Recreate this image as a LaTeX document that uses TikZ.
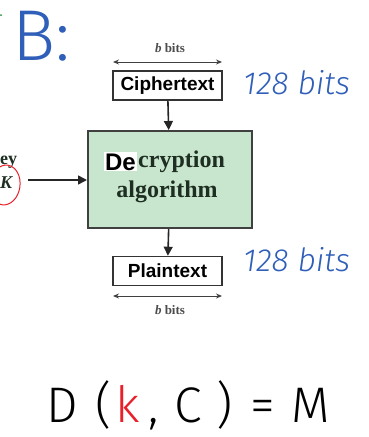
\documentclass[tikz,border=0pt]{standalone}
\usepackage{fontspec}
\setmainfont{Liberation Serif}
\newfontfamily\boxsans{Liberation Sans}
\newfontfamily\hand{Fira Sans Light}
\usetikzlibrary{arrows.meta}
\definecolor{boxgreen}{HTML}{C8E6CD}
\definecolor{darktext}{HTML}{1E2E22}
\definecolor{inkblue}{HTML}{2F5FB8}
\definecolor{inkred}{HTML}{E8202A}
\definecolor{inkgreen}{HTML}{1E8C3A}
\tikzset{
  plainbox/.style={draw=black!80, line width=1.6pt, fill=white, minimum width=109pt, minimum height=29pt, inner sep=0pt, font=\boxsans\bfseries\fontsize{19}{21}\selectfont},
  algbox/.style={draw=black!75, line width=2pt, fill=boxgreen, minimum width=164pt, minimum height=97pt, inner sep=0pt},
  flow/.style={line width=1.6pt, draw=black!85, -{Triangle[length=9pt,width=9pt]}},
  width/.style={line width=0.9pt, draw=black!75, {Stealth[length=6pt,width=5pt]}-{Stealth[length=6pt,width=5pt]}},
  bitslabel/.style={font=\fontsize{13}{15}\selectfont\bfseries, text=black!70, inner sep=0pt},
  handnote/.style={font=\hand\itshape\fontsize{32}{34}\selectfont, text=inkblue, inner sep=0pt, anchor=base west},
  keytext/.style={font=\bfseries\fontsize{18}{20}\selectfont, text=darktext, inner sep=0pt, anchor=base west},
}
\begin{document}
\begin{tikzpicture}[x=1pt,y=-1pt]
\useasboundingbox (0,0) rectangle (369,437);
% handwritten heading
\fill[inkgreen] (1,15) circle (1pt);
\node[font=\hand\fontsize{72}{72}\selectfont, text=inkblue, inner sep=0pt, anchor=base west] (B) at (12,60) {B:};
% top width
\coordinate (wt1) at (113,62);
\coordinate (wt2) at (222,62);
\draw[width] (wt1) -- (wt2);
\node[bitslabel] (bt) at (170,48) {\textit{b} bits};
% boxes
\node[plainbox] (cipher) at (167.5,85.5) {Ciphertext};
\node[algbox] (alg) at (170,179.5) {};
\node[plainbox] (plain) at (167.5,271) {Plaintext};
\node[font=\bfseries\fontsize{24}{30}\selectfont, text=darktext, inner sep=0pt, anchor=base] (dtxt) at (167,197) {algorithm};
\node[font=\bfseries\fontsize{24}{30}\selectfont, text=darktext, inner sep=0pt, anchor=base west] (ctxt) at (138,167) {cryption};
\node[fill=white, font=\boxsans\bfseries\fontsize{24}{26}\selectfont, text=black, inner sep=1pt, anchor=base east] (de) at (137,170) {De};
% key
\node[keytext] (key) at (0,164) {ey};
\node[keytext] (kk) at (0,188) {\textit{K}};
\draw[inkred, line width=1pt, rotate around={-8:(5,185)}] (5,185) ellipse (15pt and 20pt);
\coordinate (keyend) at (28,180);
% flows
\draw[flow] (keyend) -- (alg.west |- keyend);
\draw[flow] (cipher) -- (alg);
\draw[flow] (alg) -- (plain);
% bottom width
\coordinate (wb1) at (113,296);
\coordinate (wb2) at (222,296);
\draw[width] (wb1) -- (wb2);
\node[bitslabel] (bb) at (170,310) {\textit{b} bits};
% handwritten notes
\node[handnote] (n1) at (243,94) {128 bits};
\node[handnote] (n2) at (243,271) {128 bits};
\node[font=\hand\fontsize{50}{50}\selectfont, inner sep=0pt, anchor=base west] (eq) at (46,422) {D\hspace{18pt}(\hspace{4pt}\textcolor{inkred}{k}\hspace{8pt},\hspace{16pt}C\hspace{14pt})\hspace{18pt}=\hspace{16pt}M};
\end{tikzpicture}
\end{document}
